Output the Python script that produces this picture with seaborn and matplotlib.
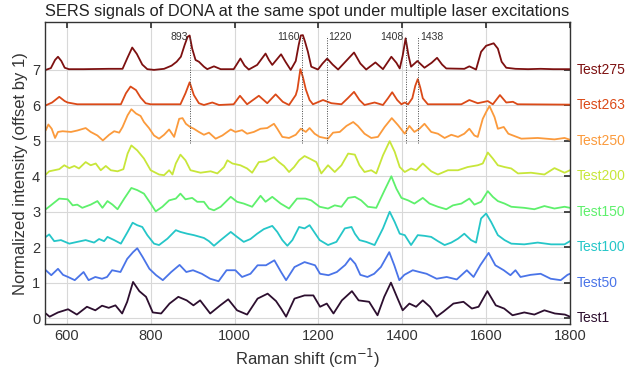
import numpy as np
import pandas as pd
import matplotlib
matplotlib.use("Agg")
import matplotlib.pyplot as plt
import seaborn as sns

# ---------------- data ----------------
names = ["Test1", "Test50", "Test100", "Test150", "Test200", "Test250", "Test263", "Test275"]
colors = ["#2d0f2f", "#4a74e8", "#25c6c8", "#5ef06c", "#c8e63a", "#fb9a3c", "#db4a18", "#7d1010"]

t275_x = [550, 562, 572, 579, 587, 595, 605, 640, 700, 733, 745, 756, 767, 780, 792, 808, 832, 850, 862, 872,
          881, 888, 893, 899, 907, 915, 927, 935, 951, 967, 998, 1005, 1014, 1024, 1034, 1054, 1074, 1082, 1090,
          1111, 1122, 1134, 1146, 1153, 1158, 1163, 1168, 1175, 1183, 1199, 1210, 1221, 1234, 1247, 1270, 1285,
          1300, 1314, 1336, 1354, 1374, 1386, 1394, 1401, 1408, 1415, 1421, 1436, 1453, 1470, 1483, 1495, 1505,
          1548, 1560, 1576, 1588, 1600, 1618, 1628, 1637, 1648, 1670, 1700, 1730, 1760, 1800]
t275_y = [0.0, 0.05, 0.28, 0.37, 0.25, 0.06, 0.02, 0.02, 0.03, 0.03, 0.35, 0.63, 0.45, 0.15, 0.02, 0.0, 0.03,
          0.12, 0.23, 0.37, 0.7, 0.93, 0.97, 0.6, 0.28, 0.23, 0.09, 0.02, 0.1, 0.02, 0.02, 0.15, 0.32, 0.12,
          0.01, 0.14, 0.46, 0.28, 0.14, 0.44, 0.22, 0.0, 0.25, 0.7, 0.97, 0.98, 0.8, 0.51, 0.09, 0.01, 0.18,
          0.32, 0.15, 0.01, 0.3, 0.49, 0.18, 0.01, 0.21, 0.02, 0.37, 0.2, 0.04, 0.4, 0.89, 0.4, 0.09, 0.25, 0.06,
          0.2, 0.34, 0.15, 0.04, 0.03, 0.1, 0.01, 0.51, 0.68, 0.75, 0.6, 0.23, 0.06, 0.03, 0.02, 0.03, 0.02, 0.02]

t263_x = [550, 565, 582, 595, 602, 625, 729, 741, 752, 765, 776, 788, 800, 871, 883, 893, 903, 915, 927, 947,
          963, 998, 1013, 1030, 1058, 1078, 1098, 1115, 1130, 1146, 1150, 1157, 1163, 1170, 1179, 1187, 1211,
          1231, 1255, 1270, 1285, 1298, 1310, 1334, 1354, 1366, 1376, 1388, 1398, 1406, 1414, 1424, 1431, 1437,
          1443, 1449, 1461, 1541, 1560, 1580, 1604, 1616, 1633, 1648, 1664, 1675, 1800]
t263_y = [0.0, 0.08, 0.24, 0.12, 0.08, 0.03, 0.03, 0.34, 0.53, 0.43, 0.22, 0.06, 0.03, 0.03, 0.34, 0.65, 0.29,
          0.06, 0.01, 0.08, 0.01, 0.03, 0.27, 0.03, 0.27, 0.06, 0.31, 0.1, 0.01, 0.29, 0.45, 1.02, 0.8, 0.45,
          0.15, 0.03, 0.15, 0.06, 0.03, 0.2, 0.38, 0.15, 0.01, 0.08, 0.01, 0.2, 0.37, 0.15, 0.03, 0.08, 0.03,
          0.2, 0.55, 0.74, 0.5, 0.2, 0.03, 0.03, 0.15, 0.06, 0.12, 0.03, 0.29, 0.08, 0.1, 0.03, 0.02]

t250_x = [550, 556, 564, 572, 579, 590, 610, 625, 645, 657, 673, 686, 701, 713, 725, 733, 745, 754, 765, 776,
          784, 796, 808, 820, 832, 844, 856, 868, 876, 884, 894, 903, 915, 927, 939, 955, 971, 991, 1002, 1018,
          1030, 1046, 1062, 1078, 1094, 1102, 1114, 1130, 1146, 1158, 1170, 1179, 1191, 1203, 1223, 1235, 1251,
          1267, 1283, 1294, 1310, 1326, 1342, 1358, 1375, 1390, 1406, 1417, 1429, 1441, 1453, 1469, 1485, 1501,
          1517, 1533, 1548, 1560, 1572, 1580, 1592, 1600, 1608, 1620, 1628, 1642, 1653, 1664, 1684, 1723, 1763,
          1787, 1800]
t250_y = [0.3, 0.46, 0.34, 0.08, 0.25, 0.27, 0.25, 0.29, 0.36, 0.25, 0.15, 0.01, 0.17, 0.27, 0.23, 0.39, 0.72,
          0.89, 0.77, 0.7, 0.53, 0.36, 0.15, 0.06, 0.17, 0.32, 0.11, 0.62, 0.64, 0.48, 0.39, 0.34, 0.25, 0.17,
          0.23, 0.06, 0.15, 0.32, 0.25, 0.3, 0.2, 0.25, 0.34, 0.36, 0.48, 0.34, 0.11, 0.08, 0.17, 0.34, 0.25,
          0.36, 0.2, 0.11, 0.06, 0.23, 0.25, 0.42, 0.53, 0.42, 0.2, 0.08, 0.11, 0.39, 0.64, 0.44, 0.2, 0.42,
          0.25, 0.34, 0.48, 0.25, 0.2, 0.08, 0.17, 0.11, 0.2, 0.34, 0.15, 0.11, 0.62, 0.81, 0.98, 0.67, 0.34,
          0.39, 0.2, 0.15, 0.06, 0.08, 0.04, 0.08, 0.03]

t200_x = [550, 558, 570, 582, 594, 606, 618, 629, 645, 657, 669, 681, 693, 705, 721, 735, 745, 754, 768, 784,
          800, 820, 832, 844, 852, 860, 871, 883, 895, 919, 943, 959, 975, 983, 995, 1014, 1030, 1042, 1058, 1074,
          1094, 1106, 1118, 1130, 1142, 1154, 1167, 1179, 1195, 1207, 1223, 1239, 1255, 1271, 1287, 1298, 1310,
          1326, 1338, 1354, 1370, 1382, 1394, 1406, 1421, 1433, 1449, 1469, 1485, 1509, 1533, 1556, 1580, 1592,
          1604, 1616, 1628, 1644, 1660, 1676, 1707, 1739, 1763, 1787, 1800]
t200_y = [0.05, 0.14, 0.17, 0.2, 0.31, 0.23, 0.29, 0.22, 0.4, 0.31, 0.36, 0.17, 0.29, 0.17, 0.14, 0.2, 0.64,
          0.87, 0.73, 0.5, 0.17, 0.05, 0.03, 0.17, 0.05, 0.36, 0.61, 0.45, 0.17, 0.1, 0.14, 0.08, 0.26, 0.45,
          0.36, 0.31, 0.22, 0.1, 0.4, 0.42, 0.54, 0.4, 0.29, 0.12, 0.26, 0.45, 0.57, 0.5, 0.4, 0.08, 0.31, 0.12,
          0.31, 0.64, 0.61, 0.31, 0.12, 0.17, 0.08, 0.59, 0.99, 0.69, 0.26, 0.12, 0.22, 0.17, 0.36, 0.14, 0.05,
          0.17, 0.17, 0.26, 0.31, 0.36, 0.67, 0.5, 0.31, 0.26, 0.22, 0.08, 0.1, 0.05, 0.23, 0.1, 0.17]

t150_x = [550, 562, 582, 602, 614, 625, 637, 657, 673, 685, 697, 709, 721, 737, 754, 768, 784, 800, 812, 828,
          844, 860, 871, 883, 899, 911, 927, 939, 951, 967, 979, 991, 1006, 1022, 1042, 1062, 1074, 1090, 1110,
          1130, 1149, 1169, 1183, 1203, 1223, 1239, 1255, 1271, 1287, 1302, 1318, 1338, 1358, 1374, 1386, 1398,
          1414, 1429, 1449, 1465, 1485, 1505, 1521, 1541, 1560, 1572, 1588, 1604, 1616, 1628, 1644, 1660, 1691,
          1715, 1739, 1763, 1787, 1800]
t150_y = [0.07, 0.18, 0.37, 0.35, 0.18, 0.2, 0.11, 0.2, 0.3, 0.11, 0.3, 0.2, 0.07, 0.37, 0.67, 0.61, 0.51,
          0.23, 0.01, 0.14, 0.32, 0.37, 0.51, 0.35, 0.39, 0.28, 0.28, 0.09, 0.04, 0.14, 0.28, 0.42, 0.28, 0.23,
          0.14, 0.45, 0.28, 0.42, 0.23, 0.09, 0.37, 0.37, 0.32, 0.14, 0.09, 0.18, 0.14, 0.39, 0.42, 0.32, 0.14,
          0.11, 0.61, 1.0, 0.65, 0.39, 0.32, 0.23, 0.39, 0.23, 0.14, 0.07, 0.18, 0.23, 0.37, 0.2, 0.28, 0.58,
          0.42, 0.3, 0.23, 0.14, 0.11, 0.07, 0.16, 0.09, 0.14, 0.11]

t100_x = [550, 558, 570, 586, 606, 625, 645, 665, 677, 689, 697, 713, 729, 745, 757, 768, 780, 792, 808, 820,
          840, 860, 871, 887, 903, 927, 939, 951, 967, 991, 1006, 1022, 1038, 1054, 1070, 1090, 1102, 1114, 1126,
          1138, 1154, 1167, 1179, 1187, 1203, 1223, 1243, 1263, 1279, 1287, 1298, 1314, 1334, 1354, 1370, 1382,
          1394, 1406, 1421, 1437, 1453, 1469, 1485, 1501, 1517, 1533, 1548, 1564, 1576, 1588, 1600, 1612, 1628,
          1644, 1660, 1691, 1723, 1755, 1787, 1800]
t100_y = [0.29, 0.36, 0.17, 0.2, 0.1, 0.15, 0.2, 0.13, 0.23, 0.17, 0.29, 0.2, 0.1, 0.43, 0.69, 0.62, 0.57,
          0.34, 0.1, 0.06, 0.24, 0.48, 0.43, 0.38, 0.34, 0.26, 0.17, 0.04, 0.2, 0.43, 0.29, 0.15, 0.23, 0.38,
          0.51, 0.6, 0.43, 0.2, 0.04, 0.2, 0.57, 0.53, 0.62, 0.48, 0.2, 0.06, 0.15, 0.53, 0.57, 0.38, 0.2, 0.15,
          0.06, 0.53, 1.0, 0.71, 0.38, 0.34, 0.06, 0.34, 0.32, 0.29, 0.17, 0.06, 0.13, 0.24, 0.38, 0.2, 0.13,
          0.81, 0.95, 0.71, 0.34, 0.2, 0.1, 0.08, 0.13, 0.08, 0.08, 0.17]

t50_x = [550, 563, 579, 591, 603, 619, 640, 652, 668, 684, 696, 708, 728, 744, 758, 768, 781, 797, 813, 829,
         849, 869, 885, 901, 922, 942, 962, 981, 1002, 1018, 1038, 1055, 1075, 1095, 1111, 1123, 1143, 1167,
         1192, 1204, 1224, 1244, 1264, 1276, 1288, 1300, 1317, 1333, 1349, 1369, 1381, 1393, 1405, 1425, 1441,
         1458, 1482, 1506, 1530, 1554, 1570, 1586, 1606, 1622, 1642, 1658, 1670, 1682, 1706, 1730, 1754, 1778,
         1794, 1800]
t50_y = [0.35, 0.21, 0.39, 0.22, 0.16, 0.07, 0.3, 0.07, 0.16, 0.11, 0.16, 0.35, 0.3, 0.67, 0.86, 0.97, 0.72,
         0.39, 0.21, 0.07, 0.3, 0.5, 0.3, 0.35, 0.25, 0.11, 0.04, 0.35, 0.35, 0.16, 0.25, 0.49, 0.49, 0.63, 0.3,
         0.07, 0.44, 0.58, 0.49, 0.25, 0.21, 0.3, 0.5, 0.69, 0.53, 0.22, 0.16, 0.25, 0.44, 0.86, 0.49, 0.07,
         0.22, 0.35, 0.3, 0.25, 0.11, 0.16, 0.09, 0.35, 0.16, 0.49, 0.84, 0.49, 0.35, 0.21, 0.35, 0.16, 0.22,
         0.25, 0.11, 0.07, 0.22, 0.25]

t1_x = [550, 559, 579, 603, 624, 648, 668, 684, 700, 716, 732, 744, 758, 773, 789, 805, 825, 845, 866, 886,
        902, 918, 942, 966, 985, 1006, 1030, 1055, 1079, 1099, 1111, 1123, 1143, 1167, 1188, 1204, 1220, 1236,
        1256, 1280, 1296, 1321, 1341, 1357, 1373, 1389, 1401, 1417, 1433, 1449, 1466, 1482, 1498, 1522, 1546,
        1566, 1582, 1603, 1623, 1643, 1663, 1691, 1715, 1739, 1764, 1788, 1800]
t1_y = [0.13, 0.04, 0.16, 0.25, 0.1, 0.32, 0.22, 0.35, 0.29, 0.36, 0.13, 0.46, 1.02, 0.76, 0.6, 0.16, 0.13,
        0.41, 0.6, 0.5, 0.36, 0.5, 0.13, 0.36, 0.53, 0.22, 0.1, 0.55, 0.69, 0.48, 0.27, 0.04, 0.55, 0.64, 0.64,
        0.32, 0.41, 0.13, 0.5, 0.76, 0.5, 0.46, 0.08, 0.6, 1.0, 0.55, 0.22, 0.41, 0.32, 0.5, 0.32, 0.04, 0.18,
        0.41, 0.46, 0.27, 0.32, 0.76, 0.36, 0.27, 0.08, 0.16, 0.1, 0.22, 0.13, 0.1, 0.04]

peak_pos = [893, 1160, 1220, 1408, 1438]
peak_labels = ["893", "1160", "1220", "1408", "1438"]
peak_align = ["right", "right", "left", "right", "left"]

xs = [t1_x, t50_x, t100_x, t150_x, t200_x, t250_x, t263_x, t275_x]
ys = [t1_y, t50_y, t100_y, t150_y, t200_y, t250_y, t263_y, t275_y]

frames = []
for i, (n, x, y) in enumerate(zip(names, xs, ys)):
    frames.append(pd.DataFrame({"shift": x, "intensity": np.array(y) + i, "sample": n}))
df = pd.concat(frames, ignore_index=True)

# ---------------- plot ----------------
sns.set_theme(style="white")
plt.rcParams["font.family"] = ["Liberation Sans", "DejaVu Sans"]

fig = plt.figure(figsize=(6.31, 3.73), dpi=100)
ax = fig.add_axes([0.0713, 0.131, 0.832, 0.81])

sns.lineplot(data=df, x="shift", y="intensity", hue="sample", hue_order=names,
             palette=dict(zip(names, colors)), sort=False, estimator=None,
             linewidth=1.3, legend=False, ax=ax)

ax.set_xlim(548, 1800)
ax.set_ylim(-0.17, 8.35)
ax.set_xticks([600, 800, 1000, 1200, 1400, 1600, 1800])
ax.set_yticks(range(0, 8))
ax.grid(True, color="#d8d8d8", linewidth=0.8)
ax.set_axisbelow(True)
ax.tick_params(direction="in", length=4, top=True, right=True, labelsize=10.5,
               color="#333333", labelcolor="#333333")
for s in ax.spines.values():
    s.set_color("#333333")
    s.set_linewidth(1.0)

for p, lab, ha in zip(peak_pos, peak_labels, peak_align):
    ax.vlines(p, 4.95, 7.95, colors="#444444", linestyles=(0, (1, 1.5)), linewidth=0.7, zorder=3)
    dx = -4 if ha == "right" else 4
    ax.text(p + dx, 7.93, lab, ha=ha, va="center", fontsize=7.5, color="#333333")

trans = ax.get_yaxis_transform()
for i, (n, c) in enumerate(zip(names, colors)):
    ax.text(1.012, i, n, transform=trans, ha="left", va="center", fontsize=10, color=c, clip_on=False)

ax.set_title("SERS signals of DONA at the same spot under multiple laser excitations",
             fontsize=11.8, color="#222222", pad=4)
ax.set_xlabel("Raman shift (cm$^{-1}$)", fontsize=12, color="#333333", labelpad=3)
ax.set_ylabel("Normalized intensity (offset by 1)", fontsize=12, color="#333333", labelpad=3)

fig.savefig("out.png", dpi=100)
